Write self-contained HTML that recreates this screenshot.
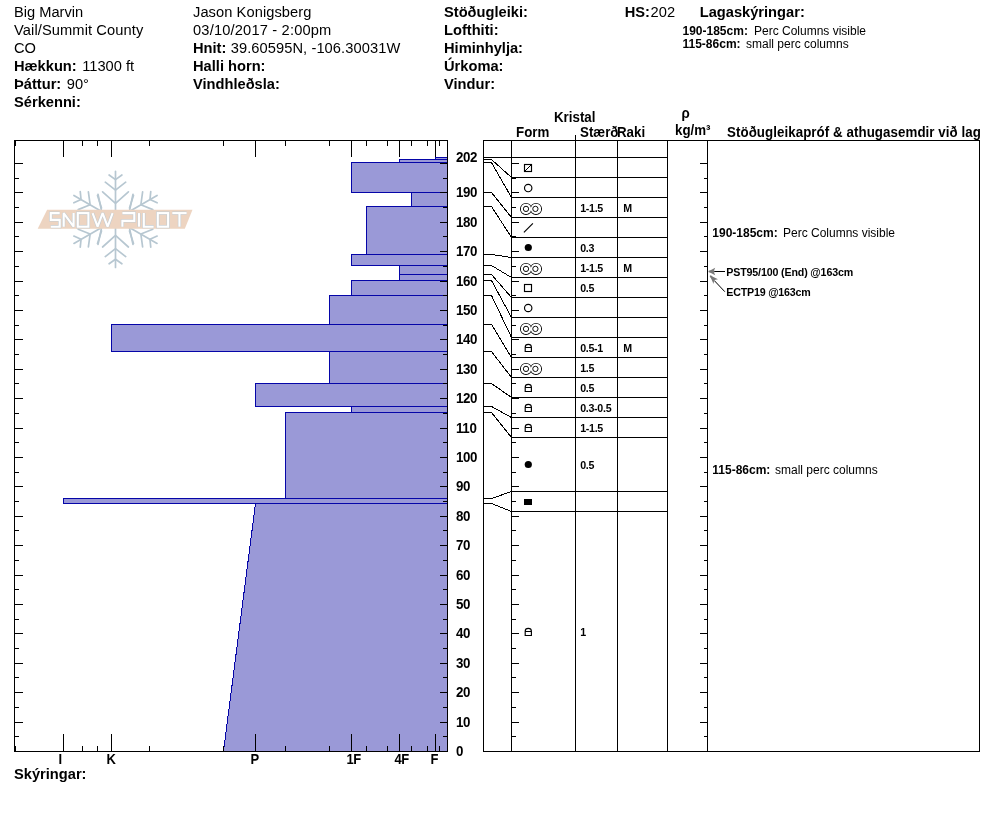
<!DOCTYPE html>
<html><head><meta charset="utf-8"><title>Snow profile</title>
<style>
html,body{margin:0;padding:0;background:#fff;}
body{width:994px;height:840px;overflow:hidden;font-family:"Liberation Sans",sans-serif;}
svg{display:block;will-change:transform;font-family:"Liberation Sans",sans-serif;}
svg text{white-space:pre;}
</style></head>
<body>
<svg width="994" height="840" viewBox="0 0 994 840">
<rect width="994" height="840" fill="#fff"/>
<text x="14" y="16.5" font-size="14.67" text-anchor="start" fill="#000">Big Marvin</text>
<text x="14" y="34.5" font-size="14.67" text-anchor="start" fill="#000" letter-spacing="0.1">Vail/Summit County</text>
<text x="14" y="52.6" font-size="14.67" text-anchor="start" fill="#000">CO</text>
<text x="14" y="70.6" font-size="14.67" font-weight="bold" text-anchor="start" fill="#000">Hækkun:</text>
<text x="82.2" y="70.6" font-size="14.67" text-anchor="start" fill="#000">11300 ft</text>
<text x="14" y="88.5" font-size="14.67" font-weight="bold" text-anchor="start" fill="#000">Þáttur:</text>
<text x="66.8" y="88.5" font-size="14.67" text-anchor="start" fill="#000">90°</text>
<text x="14" y="107.3" font-size="14.67" font-weight="bold" text-anchor="start" fill="#000">Sérkenni:</text>
<text x="193" y="16.5" font-size="14.67" text-anchor="start" fill="#000" letter-spacing="0.07">Jason Konigsberg</text>
<text x="193" y="34.5" font-size="14.67" text-anchor="start" fill="#000" letter-spacing="0.17">03/10/2017 - 2:00pm</text>
<text x="193" y="52.6" font-size="14.67" font-weight="bold" text-anchor="start" fill="#000">Hnit:</text>
<text x="230.7" y="52.6" font-size="14.67" text-anchor="start" fill="#000" letter-spacing="0.08">39.60595N, -106.30031W</text>
<text x="193" y="70.6" font-size="14.67" font-weight="bold" text-anchor="start" fill="#000">Halli horn:</text>
<text x="193" y="88.5" font-size="14.67" font-weight="bold" text-anchor="start" fill="#000">Vindhleðsla:</text>
<text x="444" y="16.5" font-size="14.67" font-weight="bold" text-anchor="start" fill="#000">Stöðugleiki:</text>
<text x="444" y="34.5" font-size="14.67" font-weight="bold" text-anchor="start" fill="#000">Lofthiti:</text>
<text x="444" y="52.6" font-size="14.67" font-weight="bold" text-anchor="start" fill="#000">Himinhylja:</text>
<text x="444" y="70.6" font-size="14.67" font-weight="bold" text-anchor="start" fill="#000">Úrkoma:</text>
<text x="444" y="88.5" font-size="14.67" font-weight="bold" text-anchor="start" fill="#000">Vindur:</text>
<text x="624.7" y="16.5" font-size="14.67" font-weight="bold" text-anchor="start" fill="#000">HS:</text>
<text x="650.6" y="16.5" font-size="14.67" text-anchor="start" fill="#000">202</text>
<text x="699.7" y="16.5" font-size="14.67" font-weight="bold" text-anchor="start" fill="#000">Lagaskýringar:</text>
<text x="682.5" y="34.7" font-size="12" font-weight="bold" text-anchor="start" fill="#000">190-185cm:</text>
<text x="754" y="34.7" font-size="12" text-anchor="start" fill="#000">Perc Columns visible</text>
<text x="682.5" y="48.3" font-size="12" font-weight="bold" text-anchor="start" fill="#000">115-86cm:</text>
<text x="746" y="48.3" font-size="12" text-anchor="start" fill="#000">small perc columns</text>
<g id="logo">
<g transform="translate(115.5,219.4)" stroke="#b7c7d1" stroke-width="1.7" fill="none" stroke-linecap="round" stroke-linejoin="round">
<g transform="rotate(0)"><line x1="0" y1="-8" x2="0" y2="-48"/><polyline points="-6.4,-44.4 0,-39.8 6.4,-44.4"/><polyline points="-10.2,-37.2 0,-29.3 10.2,-37.2"/><polyline points="-12.9,-27.6 0,-16 12.9,-27.6"/></g>
<g transform="rotate(60)"><line x1="0" y1="-8" x2="0" y2="-48"/><polyline points="-6.4,-44.4 0,-39.8 6.4,-44.4"/><polyline points="-10.2,-37.2 0,-29.3 10.2,-37.2"/><polyline points="-12.9,-27.6 0,-16 12.9,-27.6"/></g>
<g transform="rotate(120)"><line x1="0" y1="-8" x2="0" y2="-48"/><polyline points="-6.4,-44.4 0,-39.8 6.4,-44.4"/><polyline points="-10.2,-37.2 0,-29.3 10.2,-37.2"/><polyline points="-12.9,-27.6 0,-16 12.9,-27.6"/></g>
<g transform="rotate(180)"><line x1="0" y1="-8" x2="0" y2="-48"/><polyline points="-6.4,-44.4 0,-39.8 6.4,-44.4"/><polyline points="-10.2,-37.2 0,-29.3 10.2,-37.2"/><polyline points="-12.9,-27.6 0,-16 12.9,-27.6"/></g>
<g transform="rotate(240)"><line x1="0" y1="-8" x2="0" y2="-48"/><polyline points="-6.4,-44.4 0,-39.8 6.4,-44.4"/><polyline points="-10.2,-37.2 0,-29.3 10.2,-37.2"/><polyline points="-12.9,-27.6 0,-16 12.9,-27.6"/></g>
<g transform="rotate(300)"><line x1="0" y1="-8" x2="0" y2="-48"/><polyline points="-6.4,-44.4 0,-39.8 6.4,-44.4"/><polyline points="-10.2,-37.2 0,-29.3 10.2,-37.2"/><polyline points="-12.9,-27.6 0,-16 12.9,-27.6"/></g>
<g transform="rotate(0)"><line x1="-18" y1="-24" x2="-14" y2="-11.5"/></g>
<g transform="rotate(0)"><line x1="18" y1="-24" x2="14" y2="-11.5"/></g>
<g transform="rotate(180)"><line x1="-18" y1="-24" x2="-14" y2="-11.5"/></g>
<g transform="rotate(180)"><line x1="18" y1="-24" x2="14" y2="-11.5"/></g>
</g>
<polygon points="47.1,209.8 192.5,209.8 184.8,228.8 37.7,228.8" fill="#edd4c1"/>
<g id="lt" fill="none" stroke-linejoin="miter" stroke-miterlimit="1.5" stroke-linecap="butt">
<g stroke="#c4ccd2" stroke-width="3.3"><polyline points="59.699999999999996,213.1 50.8,213.1 50.8,219.89999999999998 59.699999999999996,219.89999999999998 59.699999999999996,226.7 50.8,226.7"/><polyline points="63.7,226.7 63.7,213.1 73.60000000000001,226.7 73.60000000000001,213.1"/><rect x="77.8" y="213.1" width="10.6" height="13.599999999999994"/><polyline points="92.6,213.1 97.6,226.7 102.6,213.1 107.6,226.7 112.6,213.1"/><polyline points="122.4,226.7 122.4,220.89999999999998 134.3,220.89999999999998 134.3,213.1 122.4,213.1"/><line x1="139" y1="213.1" x2="139" y2="226.7"/><polyline points="143.8,213.1 143.8,226.7 153.60000000000002,226.7"/><rect x="157.8" y="213.1" width="10.3" height="13.599999999999994"/><polyline points="172.3,213.1 186.60000000000002,213.1"/><line x1="179.45000000000002" y1="213.1" x2="179.45000000000002" y2="226.7"/></g>
<g stroke="#ffffff" stroke-width="2.1"><polyline points="59.699999999999996,213.1 50.8,213.1 50.8,219.89999999999998 59.699999999999996,219.89999999999998 59.699999999999996,226.7 50.8,226.7"/><polyline points="63.7,226.7 63.7,213.1 73.60000000000001,226.7 73.60000000000001,213.1"/><rect x="77.8" y="213.1" width="10.6" height="13.599999999999994"/><polyline points="92.6,213.1 97.6,226.7 102.6,213.1 107.6,226.7 112.6,213.1"/><polyline points="122.4,226.7 122.4,220.89999999999998 134.3,220.89999999999998 134.3,213.1 122.4,213.1"/><line x1="139" y1="213.1" x2="139" y2="226.7"/><polyline points="143.8,213.1 143.8,226.7 153.60000000000002,226.7"/><rect x="157.8" y="213.1" width="10.3" height="13.599999999999994"/><polyline points="172.3,213.1 186.60000000000002,213.1"/><line x1="179.45000000000002" y1="213.1" x2="179.45000000000002" y2="226.7"/></g>
</g>
</g>
<g id="bars" shape-rendering="crispEdges">
<polygon points="435.5,157.5 447.5,157.5 447.5,159.5 435.5,159.5" fill="#9a99d7" stroke="#0505a8" stroke-width="1" stroke-linejoin="miter"/>
<polygon points="399.5,159.5 447.5,159.5 447.5,162.5 399.5,162.5" fill="#9a99d7" stroke="#0505a8" stroke-width="1" stroke-linejoin="miter"/>
<polygon points="351.5,162.5 447.5,162.5 447.5,192.5 351.5,192.5" fill="#9a99d7" stroke="#0505a8" stroke-width="1" stroke-linejoin="miter"/>
<polygon points="411.5,192.5 447.5,192.5 447.5,206.5 411.5,206.5" fill="#9a99d7" stroke="#0505a8" stroke-width="1" stroke-linejoin="miter"/>
<polygon points="366.5,206.5 447.5,206.5 447.5,254.5 366.5,254.5" fill="#9a99d7" stroke="#0505a8" stroke-width="1" stroke-linejoin="miter"/>
<polygon points="351.5,254.5 447.5,254.5 447.5,265.5 351.5,265.5" fill="#9a99d7" stroke="#0505a8" stroke-width="1" stroke-linejoin="miter"/>
<polygon points="399.5,265.5 447.5,265.5 447.5,274.5 399.5,274.5" fill="#9a99d7" stroke="#0505a8" stroke-width="1" stroke-linejoin="miter"/>
<polygon points="399.5,274.5 447.5,274.5 447.5,280.5 399.5,280.5" fill="#9a99d7" stroke="#0505a8" stroke-width="1" stroke-linejoin="miter"/>
<polygon points="351.5,280.5 447.5,280.5 447.5,295.5 351.5,295.5" fill="#9a99d7" stroke="#0505a8" stroke-width="1" stroke-linejoin="miter"/>
<polygon points="329.5,295.5 447.5,295.5 447.5,324.5 329.5,324.5" fill="#9a99d7" stroke="#0505a8" stroke-width="1" stroke-linejoin="miter"/>
<polygon points="111.5,324.5 447.5,324.5 447.5,351.5 111.5,351.5" fill="#9a99d7" stroke="#0505a8" stroke-width="1" stroke-linejoin="miter"/>
<polygon points="329.5,351.5 447.5,351.5 447.5,383.5 329.5,383.5" fill="#9a99d7" stroke="#0505a8" stroke-width="1" stroke-linejoin="miter"/>
<polygon points="255.5,383.5 447.5,383.5 447.5,406.5 255.5,406.5" fill="#9a99d7" stroke="#0505a8" stroke-width="1" stroke-linejoin="miter"/>
<polygon points="351.5,406.5 447.5,406.5 447.5,412.5 351.5,412.5" fill="#9a99d7" stroke="#0505a8" stroke-width="1" stroke-linejoin="miter"/>
<polygon points="285.5,412.5 447.5,412.5 447.5,498.5 285.5,498.5" fill="#9a99d7" stroke="#0505a8" stroke-width="1" stroke-linejoin="miter"/>
<polygon points="63.5,498.5 447.5,498.5 447.5,503.5 63.5,503.5" fill="#9a99d7" stroke="#0505a8" stroke-width="1" stroke-linejoin="miter"/>
<polygon points="255.5,503.5 447.5,503.5 447.5,751.5 223.5,751.5" fill="#9a99d7" stroke="#0505a8" stroke-width="1" stroke-linejoin="miter"/>
</g>
<g id="frame">
<rect x="14" y="140" width="434" height="1" fill="#000"/>
<rect x="14" y="751" width="434" height="1" fill="#000"/>
<rect x="14" y="140" width="1" height="612" fill="#000"/>
<rect x="447" y="140" width="1" height="612" fill="#000"/>
<rect x="63" y="140" width="1" height="17" fill="#000"/>
<rect x="63" y="734" width="1" height="17" fill="#000"/>
<rect x="82" y="140" width="1" height="6" fill="#000"/>
<rect x="82" y="746" width="1" height="5" fill="#000"/>
<rect x="97" y="140" width="1" height="6" fill="#000"/>
<rect x="97" y="746" width="1" height="5" fill="#000"/>
<rect x="111" y="140" width="1" height="17" fill="#000"/>
<rect x="111" y="734" width="1" height="17" fill="#000"/>
<rect x="149" y="140" width="1" height="6" fill="#000"/>
<rect x="149" y="746" width="1" height="5" fill="#000"/>
<rect x="223" y="140" width="1" height="6" fill="#000"/>
<rect x="223" y="746" width="1" height="5" fill="#000"/>
<rect x="255" y="140" width="1" height="17" fill="#000"/>
<rect x="255" y="734" width="1" height="17" fill="#000"/>
<rect x="285" y="140" width="1" height="6" fill="#000"/>
<rect x="285" y="746" width="1" height="5" fill="#000"/>
<rect x="329" y="140" width="1" height="6" fill="#000"/>
<rect x="329" y="746" width="1" height="5" fill="#000"/>
<rect x="351" y="140" width="1" height="17" fill="#000"/>
<rect x="351" y="734" width="1" height="17" fill="#000"/>
<rect x="366" y="140" width="1" height="6" fill="#000"/>
<rect x="366" y="746" width="1" height="5" fill="#000"/>
<rect x="387" y="140" width="1" height="6" fill="#000"/>
<rect x="387" y="746" width="1" height="5" fill="#000"/>
<rect x="399" y="140" width="1" height="17" fill="#000"/>
<rect x="399" y="734" width="1" height="17" fill="#000"/>
<rect x="411" y="140" width="1" height="6" fill="#000"/>
<rect x="411" y="746" width="1" height="5" fill="#000"/>
<rect x="427" y="140" width="1" height="6" fill="#000"/>
<rect x="427" y="746" width="1" height="5" fill="#000"/>
<rect x="435" y="140" width="1" height="17" fill="#000"/>
<rect x="435" y="734" width="1" height="17" fill="#000"/>
<rect x="439" y="140" width="1" height="6" fill="#000"/>
<rect x="439" y="746" width="1" height="5" fill="#000"/>
<rect x="14" y="140" width="2" height="6" fill="#000"/>
<rect x="14" y="746" width="2" height="6" fill="#000"/>
<rect x="14" y="736" width="5" height="1" fill="#000"/>
<rect x="443" y="736" width="4" height="1" fill="#000"/>
<rect x="511" y="736" width="5" height="1" fill="#000"/>
<rect x="704" y="736" width="3" height="1" fill="#000"/>
<rect x="14" y="722" width="9" height="1" fill="#000"/>
<rect x="440" y="722" width="7" height="1" fill="#000"/>
<rect x="511" y="722" width="8" height="1" fill="#000"/>
<rect x="700" y="722" width="7" height="1" fill="#000"/>
<rect x="14" y="707" width="5" height="1" fill="#000"/>
<rect x="443" y="707" width="4" height="1" fill="#000"/>
<rect x="511" y="707" width="5" height="1" fill="#000"/>
<rect x="704" y="707" width="3" height="1" fill="#000"/>
<rect x="14" y="692" width="9" height="1" fill="#000"/>
<rect x="440" y="692" width="7" height="1" fill="#000"/>
<rect x="511" y="692" width="8" height="1" fill="#000"/>
<rect x="700" y="692" width="7" height="1" fill="#000"/>
<rect x="14" y="677" width="5" height="1" fill="#000"/>
<rect x="443" y="677" width="4" height="1" fill="#000"/>
<rect x="511" y="677" width="5" height="1" fill="#000"/>
<rect x="704" y="677" width="3" height="1" fill="#000"/>
<rect x="14" y="663" width="9" height="1" fill="#000"/>
<rect x="440" y="663" width="7" height="1" fill="#000"/>
<rect x="511" y="663" width="8" height="1" fill="#000"/>
<rect x="700" y="663" width="7" height="1" fill="#000"/>
<rect x="14" y="648" width="5" height="1" fill="#000"/>
<rect x="443" y="648" width="4" height="1" fill="#000"/>
<rect x="511" y="648" width="5" height="1" fill="#000"/>
<rect x="704" y="648" width="3" height="1" fill="#000"/>
<rect x="14" y="633" width="9" height="1" fill="#000"/>
<rect x="440" y="633" width="7" height="1" fill="#000"/>
<rect x="511" y="633" width="8" height="1" fill="#000"/>
<rect x="700" y="633" width="7" height="1" fill="#000"/>
<rect x="14" y="619" width="5" height="1" fill="#000"/>
<rect x="443" y="619" width="4" height="1" fill="#000"/>
<rect x="511" y="619" width="5" height="1" fill="#000"/>
<rect x="704" y="619" width="3" height="1" fill="#000"/>
<rect x="14" y="604" width="9" height="1" fill="#000"/>
<rect x="440" y="604" width="7" height="1" fill="#000"/>
<rect x="511" y="604" width="8" height="1" fill="#000"/>
<rect x="700" y="604" width="7" height="1" fill="#000"/>
<rect x="14" y="589" width="5" height="1" fill="#000"/>
<rect x="443" y="589" width="4" height="1" fill="#000"/>
<rect x="511" y="589" width="5" height="1" fill="#000"/>
<rect x="704" y="589" width="3" height="1" fill="#000"/>
<rect x="14" y="575" width="9" height="1" fill="#000"/>
<rect x="440" y="575" width="7" height="1" fill="#000"/>
<rect x="511" y="575" width="8" height="1" fill="#000"/>
<rect x="700" y="575" width="7" height="1" fill="#000"/>
<rect x="14" y="560" width="5" height="1" fill="#000"/>
<rect x="443" y="560" width="4" height="1" fill="#000"/>
<rect x="511" y="560" width="5" height="1" fill="#000"/>
<rect x="704" y="560" width="3" height="1" fill="#000"/>
<rect x="14" y="545" width="9" height="1" fill="#000"/>
<rect x="440" y="545" width="7" height="1" fill="#000"/>
<rect x="511" y="545" width="8" height="1" fill="#000"/>
<rect x="700" y="545" width="7" height="1" fill="#000"/>
<rect x="14" y="530" width="5" height="1" fill="#000"/>
<rect x="443" y="530" width="4" height="1" fill="#000"/>
<rect x="511" y="530" width="5" height="1" fill="#000"/>
<rect x="704" y="530" width="3" height="1" fill="#000"/>
<rect x="14" y="516" width="9" height="1" fill="#000"/>
<rect x="440" y="516" width="7" height="1" fill="#000"/>
<rect x="511" y="516" width="8" height="1" fill="#000"/>
<rect x="700" y="516" width="7" height="1" fill="#000"/>
<rect x="14" y="501" width="5" height="1" fill="#000"/>
<rect x="443" y="501" width="4" height="1" fill="#000"/>
<rect x="511" y="501" width="5" height="1" fill="#000"/>
<rect x="704" y="501" width="3" height="1" fill="#000"/>
<rect x="14" y="486" width="9" height="1" fill="#000"/>
<rect x="440" y="486" width="7" height="1" fill="#000"/>
<rect x="511" y="486" width="8" height="1" fill="#000"/>
<rect x="700" y="486" width="7" height="1" fill="#000"/>
<rect x="14" y="472" width="5" height="1" fill="#000"/>
<rect x="443" y="472" width="4" height="1" fill="#000"/>
<rect x="511" y="472" width="5" height="1" fill="#000"/>
<rect x="704" y="472" width="3" height="1" fill="#000"/>
<rect x="14" y="457" width="9" height="1" fill="#000"/>
<rect x="440" y="457" width="7" height="1" fill="#000"/>
<rect x="511" y="457" width="8" height="1" fill="#000"/>
<rect x="700" y="457" width="7" height="1" fill="#000"/>
<rect x="14" y="442" width="5" height="1" fill="#000"/>
<rect x="443" y="442" width="4" height="1" fill="#000"/>
<rect x="511" y="442" width="5" height="1" fill="#000"/>
<rect x="704" y="442" width="3" height="1" fill="#000"/>
<rect x="14" y="428" width="9" height="1" fill="#000"/>
<rect x="440" y="428" width="7" height="1" fill="#000"/>
<rect x="511" y="428" width="8" height="1" fill="#000"/>
<rect x="700" y="428" width="7" height="1" fill="#000"/>
<rect x="14" y="413" width="5" height="1" fill="#000"/>
<rect x="443" y="413" width="4" height="1" fill="#000"/>
<rect x="511" y="413" width="5" height="1" fill="#000"/>
<rect x="704" y="413" width="3" height="1" fill="#000"/>
<rect x="14" y="398" width="9" height="1" fill="#000"/>
<rect x="440" y="398" width="7" height="1" fill="#000"/>
<rect x="511" y="398" width="8" height="1" fill="#000"/>
<rect x="700" y="398" width="7" height="1" fill="#000"/>
<rect x="14" y="383" width="5" height="1" fill="#000"/>
<rect x="443" y="383" width="4" height="1" fill="#000"/>
<rect x="511" y="383" width="5" height="1" fill="#000"/>
<rect x="704" y="383" width="3" height="1" fill="#000"/>
<rect x="14" y="369" width="9" height="1" fill="#000"/>
<rect x="440" y="369" width="7" height="1" fill="#000"/>
<rect x="511" y="369" width="8" height="1" fill="#000"/>
<rect x="700" y="369" width="7" height="1" fill="#000"/>
<rect x="14" y="354" width="5" height="1" fill="#000"/>
<rect x="443" y="354" width="4" height="1" fill="#000"/>
<rect x="511" y="354" width="5" height="1" fill="#000"/>
<rect x="704" y="354" width="3" height="1" fill="#000"/>
<rect x="14" y="339" width="9" height="1" fill="#000"/>
<rect x="440" y="339" width="7" height="1" fill="#000"/>
<rect x="511" y="339" width="8" height="1" fill="#000"/>
<rect x="700" y="339" width="7" height="1" fill="#000"/>
<rect x="14" y="325" width="5" height="1" fill="#000"/>
<rect x="443" y="325" width="4" height="1" fill="#000"/>
<rect x="511" y="325" width="5" height="1" fill="#000"/>
<rect x="704" y="325" width="3" height="1" fill="#000"/>
<rect x="14" y="310" width="9" height="1" fill="#000"/>
<rect x="440" y="310" width="7" height="1" fill="#000"/>
<rect x="511" y="310" width="8" height="1" fill="#000"/>
<rect x="700" y="310" width="7" height="1" fill="#000"/>
<rect x="14" y="295" width="5" height="1" fill="#000"/>
<rect x="443" y="295" width="4" height="1" fill="#000"/>
<rect x="511" y="295" width="5" height="1" fill="#000"/>
<rect x="704" y="295" width="3" height="1" fill="#000"/>
<rect x="14" y="281" width="9" height="1" fill="#000"/>
<rect x="440" y="281" width="7" height="1" fill="#000"/>
<rect x="511" y="281" width="8" height="1" fill="#000"/>
<rect x="700" y="281" width="7" height="1" fill="#000"/>
<rect x="14" y="266" width="5" height="1" fill="#000"/>
<rect x="443" y="266" width="4" height="1" fill="#000"/>
<rect x="511" y="266" width="5" height="1" fill="#000"/>
<rect x="704" y="266" width="3" height="1" fill="#000"/>
<rect x="14" y="251" width="9" height="1" fill="#000"/>
<rect x="440" y="251" width="7" height="1" fill="#000"/>
<rect x="511" y="251" width="8" height="1" fill="#000"/>
<rect x="700" y="251" width="7" height="1" fill="#000"/>
<rect x="14" y="236" width="5" height="1" fill="#000"/>
<rect x="443" y="236" width="4" height="1" fill="#000"/>
<rect x="511" y="236" width="5" height="1" fill="#000"/>
<rect x="704" y="236" width="3" height="1" fill="#000"/>
<rect x="14" y="222" width="9" height="1" fill="#000"/>
<rect x="440" y="222" width="7" height="1" fill="#000"/>
<rect x="511" y="222" width="8" height="1" fill="#000"/>
<rect x="700" y="222" width="7" height="1" fill="#000"/>
<rect x="14" y="207" width="5" height="1" fill="#000"/>
<rect x="443" y="207" width="4" height="1" fill="#000"/>
<rect x="511" y="207" width="5" height="1" fill="#000"/>
<rect x="704" y="207" width="3" height="1" fill="#000"/>
<rect x="14" y="192" width="9" height="1" fill="#000"/>
<rect x="440" y="192" width="7" height="1" fill="#000"/>
<rect x="511" y="192" width="8" height="1" fill="#000"/>
<rect x="700" y="192" width="7" height="1" fill="#000"/>
<rect x="14" y="178" width="5" height="1" fill="#000"/>
<rect x="443" y="178" width="4" height="1" fill="#000"/>
<rect x="511" y="178" width="5" height="1" fill="#000"/>
<rect x="704" y="178" width="3" height="1" fill="#000"/>
<rect x="14" y="163" width="9" height="1" fill="#000"/>
<rect x="440" y="163" width="7" height="1" fill="#000"/>
<rect x="511" y="163" width="8" height="1" fill="#000"/>
<rect x="700" y="163" width="7" height="1" fill="#000"/>
</g>
<text transform="translate(58.4,764.2) scale(1,1.07)" font-size="13" font-weight="bold" text-anchor="start" fill="#000" letter-spacing="-0.3">I</text>
<text transform="translate(106.4,764.2) scale(1,1.07)" font-size="13" font-weight="bold" text-anchor="start" fill="#000" letter-spacing="-0.3">K</text>
<text transform="translate(250.4,764.2) scale(1,1.07)" font-size="13" font-weight="bold" text-anchor="start" fill="#000" letter-spacing="-0.3">P</text>
<text transform="translate(346.4,764.2) scale(1,1.07)" font-size="13" font-weight="bold" text-anchor="start" fill="#000" letter-spacing="-0.3">1F</text>
<text transform="translate(394.4,764.2) scale(1,1.07)" font-size="13" font-weight="bold" text-anchor="start" fill="#000" letter-spacing="-0.3">4F</text>
<text transform="translate(430.4,764.2) scale(1,1.07)" font-size="13" font-weight="bold" text-anchor="start" fill="#000" letter-spacing="-0.3">F</text>
<text x="14" y="779" font-size="14.67" font-weight="bold" text-anchor="start" fill="#000">Skýringar:</text>
<text transform="translate(456,755.6) scale(1,1.07)" font-size="13.33" font-weight="bold" text-anchor="start" fill="#000" letter-spacing="-0.35">0</text>
<text transform="translate(456,726.6) scale(1,1.07)" font-size="13.33" font-weight="bold" text-anchor="start" fill="#000" letter-spacing="-0.35">10</text>
<text transform="translate(456,696.6) scale(1,1.07)" font-size="13.33" font-weight="bold" text-anchor="start" fill="#000" letter-spacing="-0.35">20</text>
<text transform="translate(456,667.6) scale(1,1.07)" font-size="13.33" font-weight="bold" text-anchor="start" fill="#000" letter-spacing="-0.35">30</text>
<text transform="translate(456,637.6) scale(1,1.07)" font-size="13.33" font-weight="bold" text-anchor="start" fill="#000" letter-spacing="-0.35">40</text>
<text transform="translate(456,608.6) scale(1,1.07)" font-size="13.33" font-weight="bold" text-anchor="start" fill="#000" letter-spacing="-0.35">50</text>
<text transform="translate(456,579.6) scale(1,1.07)" font-size="13.33" font-weight="bold" text-anchor="start" fill="#000" letter-spacing="-0.35">60</text>
<text transform="translate(456,549.6) scale(1,1.07)" font-size="13.33" font-weight="bold" text-anchor="start" fill="#000" letter-spacing="-0.35">70</text>
<text transform="translate(456,520.6) scale(1,1.07)" font-size="13.33" font-weight="bold" text-anchor="start" fill="#000" letter-spacing="-0.35">80</text>
<text transform="translate(456,490.6) scale(1,1.07)" font-size="13.33" font-weight="bold" text-anchor="start" fill="#000" letter-spacing="-0.35">90</text>
<text transform="translate(456,461.6) scale(1,1.07)" font-size="13.33" font-weight="bold" text-anchor="start" fill="#000" letter-spacing="-0.35">100</text>
<text transform="translate(456,432.6) scale(1,1.07)" font-size="13.33" font-weight="bold" text-anchor="start" fill="#000" letter-spacing="-0.35">110</text>
<text transform="translate(456,402.6) scale(1,1.07)" font-size="13.33" font-weight="bold" text-anchor="start" fill="#000" letter-spacing="-0.35">120</text>
<text transform="translate(456,373.6) scale(1,1.07)" font-size="13.33" font-weight="bold" text-anchor="start" fill="#000" letter-spacing="-0.35">130</text>
<text transform="translate(456,343.6) scale(1,1.07)" font-size="13.33" font-weight="bold" text-anchor="start" fill="#000" letter-spacing="-0.35">140</text>
<text transform="translate(456,314.6) scale(1,1.07)" font-size="13.33" font-weight="bold" text-anchor="start" fill="#000" letter-spacing="-0.35">150</text>
<text transform="translate(456,285.6) scale(1,1.07)" font-size="13.33" font-weight="bold" text-anchor="start" fill="#000" letter-spacing="-0.35">160</text>
<text transform="translate(456,255.6) scale(1,1.07)" font-size="13.33" font-weight="bold" text-anchor="start" fill="#000" letter-spacing="-0.35">170</text>
<text transform="translate(456,226.6) scale(1,1.07)" font-size="13.33" font-weight="bold" text-anchor="start" fill="#000" letter-spacing="-0.35">180</text>
<text transform="translate(456,196.6) scale(1,1.07)" font-size="13.33" font-weight="bold" text-anchor="start" fill="#000" letter-spacing="-0.35">190</text>
<text transform="translate(456,161.6) scale(1,1.07)" font-size="13.33" font-weight="bold" text-anchor="start" fill="#000" letter-spacing="-0.35">202</text>
<g id="table">
<rect x="483" y="140" width="497" height="1" fill="#000"/>
<rect x="483" y="751" width="497" height="1" fill="#000"/>
<rect x="483" y="140" width="1" height="612" fill="#000"/>
<rect x="511" y="140" width="1" height="612" fill="#000"/>
<rect x="617" y="140" width="1" height="612" fill="#000"/>
<rect x="667" y="140" width="1" height="612" fill="#000"/>
<rect x="707" y="140" width="1" height="612" fill="#000"/>
<rect x="979" y="140" width="1" height="612" fill="#000"/>
<rect x="575" y="135" width="1" height="617" fill="#000"/>
<rect x="483" y="157" width="185" height="1" fill="#000"/>
<rect x="511" y="177" width="157" height="1" fill="#000"/>
<rect x="511" y="197" width="157" height="1" fill="#000"/>
<rect x="511" y="217" width="157" height="1" fill="#000"/>
<rect x="511" y="237" width="157" height="1" fill="#000"/>
<rect x="511" y="257" width="157" height="1" fill="#000"/>
<rect x="511" y="277" width="157" height="1" fill="#000"/>
<rect x="511" y="297" width="157" height="1" fill="#000"/>
<rect x="511" y="317" width="157" height="1" fill="#000"/>
<rect x="511" y="337" width="157" height="1" fill="#000"/>
<rect x="511" y="357" width="157" height="1" fill="#000"/>
<rect x="511" y="377" width="157" height="1" fill="#000"/>
<rect x="511" y="397" width="157" height="1" fill="#000"/>
<rect x="511" y="417" width="157" height="1" fill="#000"/>
<rect x="511" y="437" width="157" height="1" fill="#000"/>
<rect x="511" y="491" width="157" height="1" fill="#000"/>
<rect x="511" y="511" width="157" height="1" fill="#000"/>
<g stroke="#000" stroke-width="1" fill="none" shape-rendering="crispEdges">
<polyline points="483.5,159.5 491.5,159.5 511.5,177.5"/>
<polyline points="483.5,162.5 491.5,162.5 511.5,197.5"/>
<polyline points="483.5,192.5 491.5,192.5 511.5,217.5"/>
<polyline points="483.5,206.5 491.5,206.5 511.5,237.5"/>
<polyline points="483.5,254.5 491.5,254.5 511.5,257.5"/>
<polyline points="483.5,265.5 491.5,265.5 511.5,277.5"/>
<polyline points="483.5,274.5 491.5,274.5 511.5,297.5"/>
<polyline points="483.5,280.5 491.5,280.5 511.5,317.5"/>
<polyline points="483.5,295.5 491.5,295.5 511.5,337.5"/>
<polyline points="483.5,324.5 491.5,324.5 511.5,357.5"/>
<polyline points="483.5,351.5 491.5,351.5 511.5,377.5"/>
<polyline points="483.5,383.5 491.5,383.5 511.5,397.5"/>
<polyline points="483.5,406.5 491.5,406.5 511.5,417.5"/>
<polyline points="483.5,412.5 491.5,412.5 511.5,437.5"/>
<polyline points="483.5,498.5 491.5,498.5 511.5,491.5"/>
<polyline points="483.5,503.5 491.5,503.5 511.5,511.5"/>
</g>
</g>
<text transform="translate(554,122.3) scale(1,1.07)" font-size="13.33" font-weight="bold" text-anchor="start" fill="#000">Kristal</text>
<text transform="translate(516,136.7) scale(1,1.07)" font-size="13.33" font-weight="bold" text-anchor="start" fill="#000">Form</text>
<text transform="translate(580,136.7) scale(1,1.07)" font-size="13.33" font-weight="bold" text-anchor="start" fill="#000">Stærð</text>
<text transform="translate(617,136.7) scale(1,1.07)" font-size="13.33" font-weight="bold" text-anchor="start" fill="#000">Raki</text>
<text transform="translate(681.5,118.3) scale(1,1.07)" font-size="13.33" font-weight="bold" text-anchor="start" fill="#000">ρ</text>
<text transform="translate(675,134.8) scale(1,1.07)" font-size="13.33" font-weight="bold" text-anchor="start" fill="#000">kg/m³</text>
<text transform="translate(727,137) scale(1,1.07)" font-size="13.33" font-weight="bold" text-anchor="start" fill="#000" letter-spacing="0.06">Stöðugleikapróf &amp; athugasemdir við lag</text>
<rect x="524.5" y="164.5" width="7" height="7" fill="none" stroke="#000" stroke-width="1.15"/>
<line x1="524.5" y1="171.5" x2="531.5" y2="164.5" stroke="#000"/>
<circle cx="528.2" cy="188.0" r="3.7" fill="none" stroke="#000" stroke-width="1.15"/>
<circle cx="526" cy="208.9" r="5.5" fill="#fff" stroke="#000" stroke-width="1.05"/><circle cx="536" cy="208.9" r="5.5" fill="#fff" stroke="#000" stroke-width="1.05"/><circle cx="526" cy="208.9" r="5.1" fill="#fff"/><circle cx="536" cy="208.9" r="5.1" fill="#fff"/><circle cx="526" cy="208.9" r="2.65" fill="none" stroke="#000" stroke-width="0.95"/><circle cx="535.4" cy="208.9" r="2.65" fill="none" stroke="#000" stroke-width="0.95"/>
<text x="580.2" y="212.1" font-size="10.67" font-weight="bold" text-anchor="start" fill="#000" letter-spacing="-0.3">1-1.5</text>
<text x="623.3" y="212.1" font-size="10.67" font-weight="bold" text-anchor="start" fill="#000">M</text>
<line x1="523.9" y1="232.3" x2="532.9" y2="223.3" stroke="#000" stroke-width="1.1"/>
<circle cx="528.3" cy="247.5" r="3.6" fill="#000"/>
<text x="580.2" y="252.1" font-size="10.67" font-weight="bold" text-anchor="start" fill="#000" letter-spacing="-0.3">0.3</text>
<circle cx="526" cy="268.9" r="5.5" fill="#fff" stroke="#000" stroke-width="1.05"/><circle cx="536" cy="268.9" r="5.5" fill="#fff" stroke="#000" stroke-width="1.05"/><circle cx="526" cy="268.9" r="5.1" fill="#fff"/><circle cx="536" cy="268.9" r="5.1" fill="#fff"/><circle cx="526" cy="268.9" r="2.65" fill="none" stroke="#000" stroke-width="0.95"/><circle cx="535.4" cy="268.9" r="2.65" fill="none" stroke="#000" stroke-width="0.95"/>
<text x="580.2" y="272.1" font-size="10.67" font-weight="bold" text-anchor="start" fill="#000" letter-spacing="-0.3">1-1.5</text>
<text x="623.3" y="272.1" font-size="10.67" font-weight="bold" text-anchor="start" fill="#000">M</text>
<rect x="524.5" y="284.5" width="7" height="7" fill="none" stroke="#000" stroke-width="1.15"/>
<text x="580.2" y="292.1" font-size="10.67" font-weight="bold" text-anchor="start" fill="#000" letter-spacing="-0.3">0.5</text>
<circle cx="528.2" cy="308.0" r="3.7" fill="none" stroke="#000" stroke-width="1.15"/>
<circle cx="526" cy="328.9" r="5.5" fill="#fff" stroke="#000" stroke-width="1.05"/><circle cx="536" cy="328.9" r="5.5" fill="#fff" stroke="#000" stroke-width="1.05"/><circle cx="526" cy="328.9" r="5.1" fill="#fff"/><circle cx="536" cy="328.9" r="5.1" fill="#fff"/><circle cx="526" cy="328.9" r="2.65" fill="none" stroke="#000" stroke-width="0.95"/><circle cx="535.4" cy="328.9" r="2.65" fill="none" stroke="#000" stroke-width="0.95"/>
<path d="M525.2,351.5 L525.2,347.2 A3.1,2.9 0 0 1 531.4,347.2 L531.4,351.5 Z M525.2,347.5 L531.4,347.5" fill="none" stroke="#000" stroke-width="1.15"/>
<text x="580.2" y="352.1" font-size="10.67" font-weight="bold" text-anchor="start" fill="#000" letter-spacing="-0.3">0.5-1</text>
<text x="623.3" y="352.1" font-size="10.67" font-weight="bold" text-anchor="start" fill="#000">M</text>
<circle cx="526" cy="368.9" r="5.5" fill="#fff" stroke="#000" stroke-width="1.05"/><circle cx="536" cy="368.9" r="5.5" fill="#fff" stroke="#000" stroke-width="1.05"/><circle cx="526" cy="368.9" r="5.1" fill="#fff"/><circle cx="536" cy="368.9" r="5.1" fill="#fff"/><circle cx="526" cy="368.9" r="2.65" fill="none" stroke="#000" stroke-width="0.95"/><circle cx="535.4" cy="368.9" r="2.65" fill="none" stroke="#000" stroke-width="0.95"/>
<text x="580.2" y="372.1" font-size="10.67" font-weight="bold" text-anchor="start" fill="#000" letter-spacing="-0.3">1.5</text>
<path d="M525.2,391.5 L525.2,387.2 A3.1,2.9 0 0 1 531.4,387.2 L531.4,391.5 Z M525.2,387.5 L531.4,387.5" fill="none" stroke="#000" stroke-width="1.15"/>
<text x="580.2" y="392.1" font-size="10.67" font-weight="bold" text-anchor="start" fill="#000" letter-spacing="-0.3">0.5</text>
<path d="M525.2,411.5 L525.2,407.2 A3.1,2.9 0 0 1 531.4,407.2 L531.4,411.5 Z M525.2,407.5 L531.4,407.5" fill="none" stroke="#000" stroke-width="1.15"/>
<text x="580.2" y="412.1" font-size="10.67" font-weight="bold" text-anchor="start" fill="#000" letter-spacing="-0.3">0.3-0.5</text>
<path d="M525.2,431.5 L525.2,427.2 A3.1,2.9 0 0 1 531.4,427.2 L531.4,431.5 Z M525.2,427.5 L531.4,427.5" fill="none" stroke="#000" stroke-width="1.15"/>
<text x="580.2" y="432.1" font-size="10.67" font-weight="bold" text-anchor="start" fill="#000" letter-spacing="-0.3">1-1.5</text>
<circle cx="528.3" cy="464.5" r="3.6" fill="#000"/>
<text x="580.2" y="469.1" font-size="10.67" font-weight="bold" text-anchor="start" fill="#000" letter-spacing="-0.3">0.5</text>
<rect x="524" y="499.0" width="8" height="6" fill="#000"/>
<path d="M525.2,635.5 L525.2,631.2 A3.1,2.9 0 0 1 531.4,631.2 L531.4,635.5 Z M525.2,631.5 L531.4,631.5" fill="none" stroke="#000" stroke-width="1.15"/>
<text x="580.2" y="636.1" font-size="10.67" font-weight="bold" text-anchor="start" fill="#000" letter-spacing="-0.3">1</text>
<text x="712.3" y="237" font-size="12" font-weight="bold" text-anchor="start" fill="#000">190-185cm:</text>
<text x="783" y="237" font-size="12" text-anchor="start" fill="#000">Perc Columns visible</text>
<text x="712.3" y="473.8" font-size="12" font-weight="bold" text-anchor="start" fill="#000">115-86cm:</text>
<text x="775" y="473.8" font-size="12" text-anchor="start" fill="#000">small perc columns</text>
<text x="726.3" y="275.7" font-size="10.67" font-weight="bold" text-anchor="start" fill="#000" letter-spacing="-0.15">PST95/100 (End) @163cm</text>
<text x="726.3" y="295.7" font-size="10.67" font-weight="bold" text-anchor="start" fill="#000" letter-spacing="-0.2">ECTP19 @163cm</text>
<line x1="714" y1="271.5" x2="725" y2="271.5" stroke="#000"/>
<polygon points="708.2,271.5 715.2,267.8 713.6,271.5 715.2,275.2" fill="#7a7a7a"/>
<line x1="708.8" y1="271.5" x2="714.5" y2="271.5" stroke="#7a7a7a" stroke-width="1.8"/>
<line x1="714.5" y1="280.8" x2="724.8" y2="291.7" stroke="#000"/>
<polygon points="709.8,275.2 718,279.3 714.2,280 713.5,284" fill="#7a7a7a"/>
<line x1="710.3" y1="275.8" x2="714.6" y2="280.6" stroke="#7a7a7a" stroke-width="1.8"/>
</svg>
</body></html>
